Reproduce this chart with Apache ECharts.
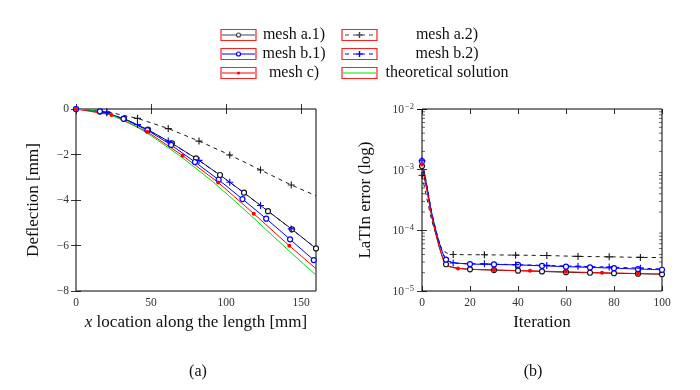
<!DOCTYPE html>
<html><head><meta charset="utf-8">
<script src="https://cdn.jsdelivr.net/npm/echarts@6/dist/echarts.min.js"></script>
<style>html,body{margin:0;padding:0;background:#fff}#c{width:700px;height:390px}</style>
</head><body><div id="c"></div>
<script>
// ---------- (a) deflection data ----------
const defA1X = [0,16,32,48,64,80,96,112,128,144,160];
const defA1Y = [0,-0.11,-0.42,-0.91,-1.51,-2.17,-2.90,-3.68,-4.49,-5.29,-6.13];
const defA2X = [0,20.5,41,61.5,82,102.5,123,143.5,160];
const defA2Y = [0,-0.12,-0.41,-0.86,-1.41,-2.02,-2.68,-3.34,-3.81];
const defA2Mark = [0,1,1,1,1,1,1,1,0];
const defB1X = [0,15.9,31.7,47.6,63.4,79.3,95.1,111,126.8,142.7,158.5,160];
const defB1Y = [0,-0.10,-0.43,-0.93,-1.58,-2.33,-3.11,-3.96,-4.82,-5.73,-6.64,-6.72];
const defB1Mark = [1,1,1,1,1,1,1,1,1,1,1,0];
const defB2X = [0,20.5,41,61.5,82,102.5,123,143.5,160];
const defB2Y = [0,-0.16,-0.68,-1.41,-2.26,-3.22,-4.24,-5.27,-6.13];
const defB2Mark = [0,1,1,1,1,1,1,1,0];
const defCX = [0,23.7,47.4,71.1,94.8,118.5,142.2,160];
const defCY = [0,-0.26,-1.00,-2.05,-3.23,-4.60,-6.01,-7.02];
const defCMark = [1,1,1,1,1,1,1,0];
const defThX = [0,10,20,30,40,50,60,70,80,90,100,110,120,130,140,150,160];
const defThY = [0,-0.05,-0.19,-0.44,-0.76,-1.17,-1.63,-2.10,-2.61,-3.13,-3.70,-4.29,-4.89,-5.50,-6.11,-6.71,-7.30];
const defXTicks = [0,50,100,150];

// ---------- (b) LaTIn error data ----------
const errA1X = [0,2,4,6,8,10,13,16,20,30,40,50,60,70,80,90,100];
const errA1Y = [1.15e-3,4.7e-4,1.75e-4,8.0e-5,4.2e-5,2.76e-5,2.45e-5,2.35e-5,2.28e-5,2.21e-5,2.16e-5,2.10e-5,2.04e-5,2.00e-5,1.96e-5,1.93e-5,1.89e-5];
const errA1Mark = [1,0,0,0,0,1,0,0,1,1,1,1,1,1,1,1,1];
const errA2X = [0,2,4,6,8,10,13,26,39,52,65,78,91,100];
const errA2Y = [8.1e-4,3.4e-4,1.5e-4,8.2e-5,5.2e-5,4.3e-5,4.0e-5,3.95e-5,3.9e-5,3.84e-5,3.72e-5,3.66e-5,3.58e-5,3.56e-5];
const errA2Mark = [1,0,0,0,0,0,1,1,1,1,1,1,1,0];
const errB1X = [0,2,4,6,8,10,13,16,20,30,40,50,60,70,80,90,100];
const errB1Y = [1.38e-3,5.5e-4,2.0e-4,9.3e-5,5.0e-5,3.3e-5,2.95e-5,2.85e-5,2.78e-5,2.74e-5,2.69e-5,2.60e-5,2.52e-5,2.45e-5,2.38e-5,2.30e-5,2.24e-5];
const errB1Mark = [1,0,0,0,0,1,0,0,1,1,1,1,1,1,1,1,1];
const errB2X = [0,2,4,6,8,10,13,26,39,52,65,78,91,100];
const errB2Y = [1.40e-3,5.6e-4,2.05e-4,9.5e-5,5.1e-5,3.4e-5,2.9e-5,2.8e-5,2.72e-5,2.64e-5,2.56e-5,2.48e-5,2.38e-5,2.32e-5];
const errB2Mark = [1,0,0,0,0,0,1,1,1,1,1,1,1,0];
const errCX = [0,2,4,6,8,10,15,30,45,60,75,90,100];
const errCY = [1.22e-3,4.8e-4,1.8e-4,8.1e-5,4.2e-5,2.7e-5,2.36e-5,2.22e-5,2.15e-5,2.07e-5,2.00e-5,1.94e-5,1.90e-5];
const errCMark = [1,0,0,0,0,0,1,1,1,1,1,1,0];
const errXTicks = [0,20,40,60,80,100];
const errMinorTicks = [2e-5,3e-5,4e-5,5e-5,6e-5,7e-5,8e-5,9e-5,2e-4,3e-4,4e-4,5e-4,6e-4,7e-4,8e-4,9e-4,2e-3,3e-3,4e-3,5e-3,6e-3,7e-3,8e-3,9e-3];

const legendNames = ['mesh a.1)','mesh a.2)','mesh b.1)','mesh b.2)','mesh c)','theoretical solution'];
const panelLabels = ['(a)','(b)'];

// ---------- helpers ----------
const FONT = 'Liberation Serif';
const BLACK = '#1a1a1a', BLUE = '#0000ff', RED = '#ff0000', GREEN = '#00e000';
const PLUS = 'path://M4.2,0h1.6v10h-1.6z M0,4.2h10v1.6h-10z';

function build(xs, ys, marks) {
  return xs.map((x, i) => {
    const it = { value: [x, ys[i]] };
    if (marks && !marks[i]) it.symbol = 'none';
    return it;
  });
}
function lineSeries(name, xi, yi, data, color, dashed, symbol, size, filled, smooth) {
  return {
    name, type: 'line', xAxisIndex: xi, yAxisIndex: yi, data,
    smooth: smooth,
    symbol, symbolSize: size, showSymbol: symbol !== 'none',
    lineStyle: { color, width: 1, type: dashed ? [4, 4] : 'solid' },
    itemStyle: { color: filled ? color : '#fff', borderColor: color, borderWidth: filled ? 0 : 1.2 },
    z: 3, animation: false, silent: true
  };
}

const tickStyle = { inside: true, length: 5, lineStyle: { color: '#000', width: 0.8 } };
const labelStyle = { fontFamily: FONT, fontSize: 11.5, color: '#333' };
const nameStyle = { fontFamily: FONT, fontSize: 17, color: '#111' };

function minusFmt(v) { return v < 0 ? '\u2212' + (-v) : String(v); }
function logFmt(v) {
  const e = Math.round(Math.log10(v));
  return '{b|10}{s|' + (e < 0 ? '\u2212' + (-e) : e) + '}';
}
const logRich = {
  b: { fontFamily: FONT, fontSize: 11.5, color: '#333', verticalAlign: 'bottom', lineHeight: 14 },
  s: { fontFamily: FONT, fontSize: 8.5, color: '#333', verticalAlign: 'top', lineHeight: 14, padding: [0, 0, 6, 1] }
};

const option = {
  backgroundColor: '#fff',
  animation: false,
  grid: [
    { left: 76, top: 109, width: 240, height: 182, show: true, borderColor: '#000', borderWidth: 1, backgroundColor: 'transparent' },
    { left: 422, top: 109, width: 240, height: 182, show: true, borderColor: '#000', borderWidth: 1, backgroundColor: 'transparent' }
  ],
  xAxis: [
    { gridIndex: 0, type: 'value', min: 0, max: 160, interval: 50,
      axisLine: { show: false }, splitLine: { show: false },
      axisTick: Object.assign({ customValues: defXTicks }, tickStyle),
      axisLabel: Object.assign({ customValues: defXTicks, margin: 6 }, labelStyle),
      name: '{i|x} location along the length [mm]', nameLocation: 'middle', nameGap: 23,
      nameTextStyle: Object.assign({ rich: { i: { fontFamily: FONT, fontSize: 17, fontStyle: 'italic', color: '#111' } } }, nameStyle) },
    { gridIndex: 0, type: 'value', min: 0, max: 160, position: 'top',
      axisLine: { show: false }, splitLine: { show: false }, axisLabel: { show: false },
      axisTick: Object.assign({ customValues: defXTicks }, tickStyle) },
    { gridIndex: 1, type: 'value', min: 0, max: 100, interval: 20,
      axisLine: { show: false }, splitLine: { show: false },
      axisTick: Object.assign({ customValues: errXTicks }, tickStyle),
      axisLabel: Object.assign({ customValues: errXTicks, margin: 6 }, labelStyle),
      name: 'Iteration', nameLocation: 'middle', nameGap: 23, nameTextStyle: nameStyle },
    { gridIndex: 1, type: 'value', min: 0, max: 100, interval: 20, position: 'top',
      axisLine: { show: false }, splitLine: { show: false }, axisLabel: { show: false },
      axisTick: Object.assign({ customValues: errXTicks }, tickStyle) }
  ],
  yAxis: [
    { gridIndex: 0, type: 'value', min: -8, max: 0, interval: 2,
      axisLine: { show: false }, splitLine: { show: false }, axisTick: tickStyle,
      axisLabel: Object.assign({ formatter: minusFmt, margin: 7 }, labelStyle),
      name: 'Deflection [mm]', nameLocation: 'middle', nameGap: 34, nameTextStyle: nameStyle },
    { gridIndex: 0, type: 'value', min: -8, max: 0, interval: 2, position: 'right',
      axisLine: { show: false }, splitLine: { show: false }, axisLabel: { show: false }, axisTick: tickStyle },
    { gridIndex: 1, type: 'log', logBase: 10, min: 1e-5, max: 1e-2,
      axisLine: { show: false }, splitLine: { show: false }, axisTick: tickStyle,
      axisLabel: { formatter: logFmt, rich: logRich, margin: 8 },
      name: 'LaTIn error (log)', nameLocation: 'middle', nameGap: 48, nameTextStyle: nameStyle },
    { gridIndex: 1, type: 'log', logBase: 10, min: 1e-5, max: 1e-2, position: 'right',
      axisLine: { show: false }, splitLine: { show: false }, axisLabel: { show: false }, axisTick: tickStyle }
  ],
  series: [
    // (a)
    lineSeries(legendNames[0], 0, 0, build(defA1X, defA1Y), BLACK, false, 'circle', 5, false, false),
    lineSeries(legendNames[1], 0, 0, build(defA2X, defA2Y, defA2Mark), BLACK, true, PLUS, 7, true, false),
    lineSeries(legendNames[2], 0, 0, build(defB1X, defB1Y, defB1Mark), BLUE, false, 'circle', 5, false, false),
    lineSeries(legendNames[3], 0, 0, build(defB2X, defB2Y, defB2Mark), BLUE, true, PLUS, 7, true, false),
    lineSeries(legendNames[4], 0, 0, build(defCX, defCY, defCMark), RED, false, 'circle', 4, true, false),
    lineSeries(legendNames[5], 0, 0, build(defThX, defThY), GREEN, false, 'none', 0, true, false),
    // (b)
    lineSeries(legendNames[0], 2, 2, build(errA1X, errA1Y, errA1Mark), BLACK, false, 'circle', 5, false, 0.3),
    lineSeries(legendNames[1], 2, 2, build(errA2X, errA2Y, errA2Mark), BLACK, true, PLUS, 7, true, 0.3),
    lineSeries(legendNames[2], 2, 2, build(errB1X, errB1Y, errB1Mark), BLUE, false, 'circle', 5, false, 0.3),
    lineSeries(legendNames[3], 2, 2, build(errB2X, errB2Y, errB2Mark), BLUE, true, PLUS, 7, true, 0.3),
    lineSeries(legendNames[4], 2, 2, build(errCX, errCY, errCMark), RED, false, 'circle', 4, true, 0.3),
    // minor log ticks (left and right, inside)
    { type: 'custom', xAxisIndex: 2, yAxisIndex: 2, silent: true, clip: false, z: 4,
      data: errMinorTicks.map(v => [0, v]),
      renderItem: function (params, api) {
        const v = api.value(1);
        const l = api.coord([0, v]), r = api.coord([100, v]);
        const st = { stroke: '#000', lineWidth: 0.6 };
        return { type: 'group', children: [
          { type: 'line', shape: { x1: l[0], y1: l[1], x2: l[0] + 3, y2: l[1] }, style: st },
          { type: 'line', shape: { x1: r[0] - 3, y1: r[1], x2: r[0], y2: r[1] }, style: st }
        ] };
      } }
  ],
  graphic: []
};

// ---------- legend (pgfplots style) ----------
const legendDefs = [
  { color: '#444', dashed: false, mark: 'o' },
  { color: '#444', dashed: true, mark: '+' },
  { color: BLUE, dashed: false, mark: 'o' },
  { color: BLUE, dashed: true, mark: '+' },
  { color: RED, dashed: false, mark: '*' },
  { color: GREEN, dashed: false, mark: '' }
];
const rowY = [35, 54, 73];
const boxX = [221, 342];
const textX = [294, 447];
legendDefs.forEach((d, i) => {
  const col = i % 2, row = Math.floor(i / 2);
  const bx = boxX[col], cy = rowY[row];
  const g = [];
  g.push({ type: 'rect', shape: { x: bx, y: cy - 5.5, width: 35, height: 11 }, style: { fill: '#fff', stroke: '#ff2020', lineWidth: 1.2 } });
  g.push({ type: 'line', shape: { x1: bx + 1, y1: cy, x2: bx + 34, y2: cy }, style: { stroke: d.color, lineWidth: 1, lineDash: d.dashed ? [4, 4] : null, lineDashOffset: d.dashed ? -2 : 0 } });
  const mx = bx + 17.5;
  if (d.mark === 'o') g.push({ type: 'circle', shape: { cx: mx, cy: cy, r: 2 }, style: { fill: '#fff', stroke: d.color, lineWidth: 1.2 } });
  if (d.mark === '+') {
    g.push({ type: 'line', shape: { x1: mx - 3, y1: cy, x2: mx + 3, y2: cy }, style: { stroke: d.color, lineWidth: 1.4 } });
    g.push({ type: 'line', shape: { x1: mx, y1: cy - 3, x2: mx, y2: cy + 3 }, style: { stroke: d.color, lineWidth: 1.4 } });
  }
  if (d.mark === '*') g.push({ type: 'circle', shape: { cx: mx, cy: cy, r: 1.5 }, style: { fill: d.color } });
  g.push({ type: 'text', x: textX[col], y: cy, style: { text: legendNames[i], fontFamily: FONT, fontSize: 16, fill: '#111', align: 'center', verticalAlign: 'middle' } });
  option.graphic.push({ type: 'group', children: g, silent: true });
});
option.graphic.push({ type: 'text', x: 198, y: 372, style: { text: panelLabels[0], fontFamily: FONT, fontSize: 16, fill: '#111', align: 'center', verticalAlign: 'middle' } });
option.graphic.push({ type: 'text', x: 533, y: 372, style: { text: panelLabels[1], fontFamily: FONT, fontSize: 16, fill: '#111', align: 'center', verticalAlign: 'middle' } });

const chart = echarts.init(document.getElementById('c'), null, { renderer: 'canvas' });
chart.setOption(option);
</script></body></html>
